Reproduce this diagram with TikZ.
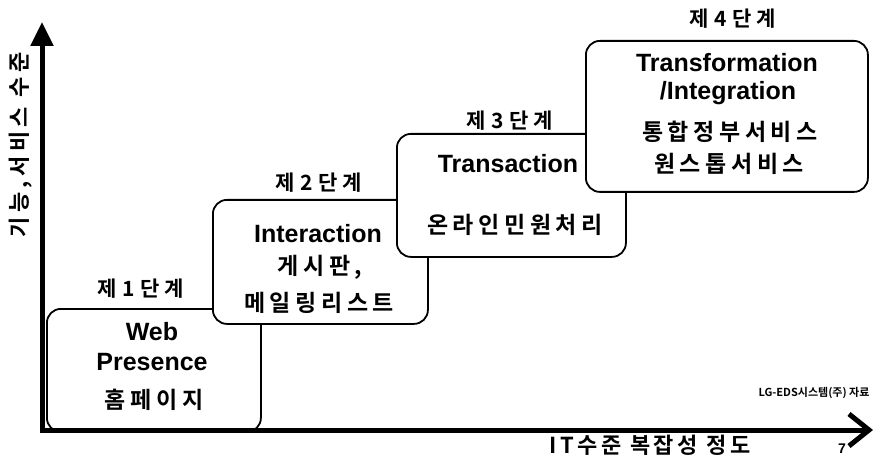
\documentclass[tikz,border=0pt]{standalone}
\usepackage{fontspec}
\setmainfont{Liberation Sans}
\newfontfamily\kr{Noto Sans CJK KR}[BoldFont=* Bold]
\usetikzlibrary{arrows.meta}
\tikzset{
  stagebox/.style={draw, line width=1.8pt, rounded corners=14pt, fill=white, inner sep=0pt, anchor=north west},
  en/.style={font=\fontsize{25}{25}\selectfont\bfseries, inner sep=0pt, anchor=base},
  ko/.style={font=\kr\bfseries\fontsize{23}{23}\selectfont\addfontfeatures{LetterSpace=20}, inner sep=0pt},
  stagelabel/.style={font=\kr\bfseries\fontsize{21}{21}\selectfont\addfontfeatures{LetterSpace=25}, inner sep=0pt},
  ylabelstyle/.style={font=\kr\bfseries\fontsize{22}{22}\selectfont\addfontfeatures{LetterSpace=20}, inner sep=0pt},
  xlabelstyle/.style={font=\kr\bfseries\fontsize{22}{22}\selectfont\addfontfeatures{LetterSpace=16}, inner sep=0pt},
  axisline/.style={line width=5pt, line join=miter},
}
\begin{document}
\begin{tikzpicture}[x=1pt, y=-1pt]
\useasboundingbox (0,0) rectangle (890,462);
% boxes (later ones overlap earlier)
\node[stagebox, minimum width=214, minimum height=123] (b1) at (46,308) {};
\node[stagebox, minimum width=215, minimum height=124] (b2) at (212,199) {};
\node[stagebox, minimum width=229, minimum height=123] (b3) at (396,133) {};
\node[stagebox, minimum width=282, minimum height=151] (b4) at (585,40) {};
% axes
\coordinate (ytip) at (42,22);
\coordinate (orig) at (42,430);
\coordinate (xtip) at (873,430);
\draw[axisline, {Triangle[length=24pt,width=22pt]}-{Straight Barb[length=20pt,width=32pt]}] (ytip) -- (orig) -- (xtip);
% stage labels
\node[stagelabel] (s1) at (141,289) {제1단계};
\node[stagelabel] (s2) at (319,183) {제2단계};
\node[stagelabel] (s3) at (510,121) {제3단계};
\node[stagelabel] (s4) at (733,19) {제4단계};
% box 1 text
\node[en] (t1a) at (152,340) {Web};
\node[en] (t1b) at (152,370) {Presence};
\node[ko] (t1c) at (154,400) {홈페이지};
% box 2 text
\node[en] (t2a) at (318,242) {Interaction};
\node[ko] (t2b) at (320,267) {게시판,};
\node[ko] (t2c) at (319,303) {메일링리스트};
% box 3 text
\node[en] (t3a) at (508,173) {Transaction};
\node[ko] (t3b) at (515,225) {온라인민원처리};
% box 4 text
\node[en] (t4a) at (727,72) {Transformation};
\node[en] (t4b) at (728,100) {/Integration};
\node[ko] (t4c) at (730,132) {통합정부서비스};
\node[ko] (t4d) at (729,164) {원스톱서비스};
% axis labels
\node[ylabelstyle, rotate=90] (ylab) at (21,145) {기능,서비스 수준};
\node[xlabelstyle] (xlab) at (650,445) {IT수준 복잡성 정도};
\node[font=\kr\bfseries\fontsize{11}{11}\selectfont, inner sep=0pt] (src) at (814,393) {LG-EDS시스템(주) 자료};
\node[font=\bfseries\fontsize{14}{14}\selectfont, inner sep=0pt] (pg) at (842,449) {7};
\end{tikzpicture}
\end{document}
